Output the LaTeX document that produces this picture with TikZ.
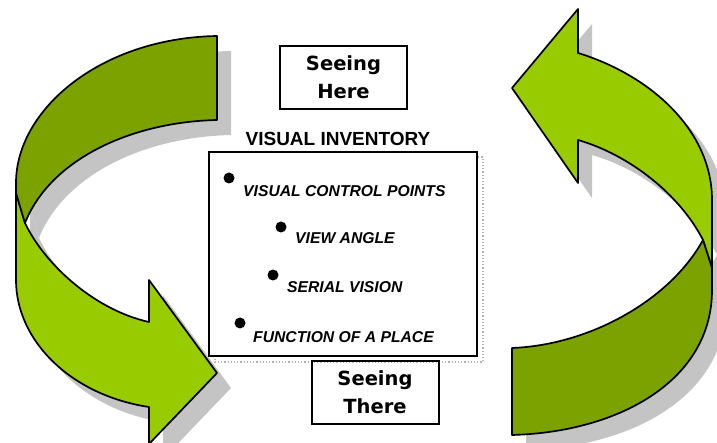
\documentclass[tikz,border=0pt]{standalone}
\usepackage{fontspec}
\setmainfont{Liberation Sans}
\newfontfamily\dejavu{DejaVu Sans}
\definecolor{lightgreen}{RGB}{153,204,0}
\definecolor{darkgreen}{RGB}{124,162,0}
\definecolor{shade}{RGB}{196,196,196}
\tikzset{
  arrowline/.style={draw=black, line width=1.7pt, line join=round},
  shadowfill/.style={fill=shade, draw=none, shift={(14,15)}},
  seebox/.style={draw, line width=2pt, minimum width=127pt, minimum height=63pt, align=center,
    font=\dejavu\bfseries\fontsize{19.5}{28}\selectfont, inner sep=0pt},
  item/.style={anchor=base west, font=\bfseries\itshape\fontsize{15.7}{18}\selectfont, inner sep=0pt},
  bullet/.style={circle, fill=black, minimum size=11pt, inner sep=0pt},
}
\def\LeftLight{(16,193) -- (16,280) .. controls (16,340) and (70,395) .. (149,407) -- (149,444) -- (217,373) -- (149,280) -- (149,322) .. controls (95,310) and (45,265) .. (25,223) -- cycle}
\def\LeftDark{(217,36) -- (217,120) .. controls (130,122) and (50,160) .. (25,223) -- (16,193) -- (16,183) .. controls (16,110) and (100,38) .. (217,36) -- cycle}
\def\RightLight{(703,240) -- (712,268) -- (712,200) .. controls (712,130) and (650,75) .. (578,53) -- (578,9) -- (512,88) -- (578,183) -- (578,140) .. controls (630,155) and (680,195) .. (703,240) -- cycle}
\def\RightDark{(512,435) -- (512,348) .. controls (590,345) and (670,300) .. (703,240) -- (712,268) -- (712,290) .. controls (712,380) and (620,432) .. (512,435) -- cycle}
\begin{document}
\begin{tikzpicture}[x=1pt,y=-1pt]
\useasboundingbox (0,0) rectangle (717,443);
\clip (0,0) rectangle (717,443);
% shadows
\fill[shadowfill] \LeftLight;
\fill[shadowfill] \LeftDark;
\fill[shadowfill] \RightLight;
\fill[shadowfill] \RightDark;
% dotted frame behind inventory box
\draw[gray!60, dotted, line width=1.2pt] (215,157) rectangle (483,362);
% arrows
\path[arrowline, fill=lightgreen] \LeftLight;
\path[arrowline, fill=darkgreen] \LeftDark;
\path[arrowline, fill=lightgreen] \RightLight;
\path[arrowline, fill=darkgreen] \RightDark;
% boxes
\node[seebox] (here) at (343.5,77.5) {Seeing\\Here};
\node[seebox] (there) at (375,392) {Seeing\\There};
\node[draw, line width=2pt, fill=white, minimum width=268pt, minimum height=204pt, inner sep=0pt] (inv) at (343,254) {};
\node[anchor=base, inner sep=0pt, font=\bfseries\fontsize{19}{22}\selectfont] (title) at (338,146) {VISUAL INVENTORY};
% items
\node[bullet] (b1) at (229,178) {};
\node[item] (t1) at (243,197) {VISUAL CONTROL POINTS};
\node[bullet] (b2) at (281,227) {};
\node[item] (t2) at (295,244) {VIEW ANGLE};
\node[bullet] (b3) at (273,275) {};
\node[item] (t3) at (287,293) {SERIAL VISION};
\node[bullet] (b4) at (240,323) {};
\node[item] (t4) at (253,342) {FUNCTION OF A PLACE};
\end{tikzpicture}
\end{document}
